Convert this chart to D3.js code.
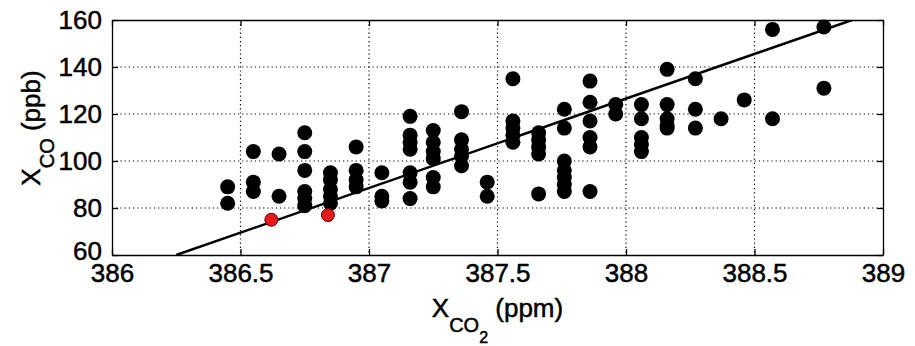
<!DOCTYPE html>
<html>
<head>
<meta charset="utf-8">
<script src="https://cdn.jsdelivr.net/npm/d3@7"></script>
<style>
  body { margin: 0; background: #fff; }
  text { font-family: "Liberation Sans", Arial, Helvetica, sans-serif; fill: #000; stroke: #000; stroke-width: 0.5px; }
</style>
</head>
<body>
<div id="chart"></div>
<script>
var co2Columns = [386.45, 386.55, 386.65, 386.75, 386.85, 386.95, 387.05, 387.16,
  387.25, 387.36, 387.46, 387.56, 387.66, 387.76, 387.86, 387.96, 388.06, 388.16,
  388.27, 388.37, 388.46, 388.57, 388.77];
var coColumns = [
  [89, 82],
  [104, 91, 87],
  [103, 85],
  [112, 104, 96, 87, 84, 81],
  [95, 92, 88, 85, 82],
  [106, 96, 92, 89],
  [95, 85, 83],
  [119, 111, 108, 105, 95, 91, 84],
  [113, 108, 104, 101, 93, 89],
  [121, 109, 105, 102, 98],
  [91, 85],
  [135, 117, 114, 111, 108],
  [112, 109, 106, 103, 86],
  [122, 114, 100, 96, 93, 90, 87],
  [134, 125, 117, 110, 106, 87],
  [124, 120],
  [124, 118, 110, 107, 104],
  [139, 124, 118, 115, 114],
  [135, 122, 114],
  [118],
  [126],
  [156, 118],
  [157, 131]
];
// highlighted (red) samples
var redCo2 = [386.62, 386.84];
var redCo = [75, 77];
// fitted line end points
var fitCo2 = [386.25, 388.88];
var fitCo = [60, 160];

var xTicks = [386, 386.5, 387, 387.5, 388, 388.5, 389];
var yTicks = [60, 80, 100, 120, 140, 160];

var svgWidth = 915;
var svgHeight = 346;
var margin = { top: 20, right: 32, bottom: 91, left: 112 };
var width = svgWidth - margin.left - margin.right;
var height = svgHeight - margin.top - margin.bottom;

var svg = d3.select("#chart")
  .append("svg")
  .attr("width", svgWidth)
  .attr("height", svgHeight);

svg.append("rect").attr("width", svgWidth).attr("height", svgHeight).attr("fill", "#fff");

var g = svg.append("g")
  .attr("transform", `translate(${margin.left},${margin.top})`);

var x = d3.scaleLinear().domain([386, 389]).range([0, width]);
var y = d3.scaleLinear().domain([60, 160]).range([height, 0]);

// dotted grid
g.append("g").selectAll("line")
  .data(xTicks.slice(1, -1))
  .enter().append("line")
  .attr("x1", d => x(d)).attr("x2", d => x(d))
  .attr("y1", 0).attr("y2", height)
  .attr("stroke", "#000").attr("stroke-width", 1.2)
  .attr("stroke-dasharray", "1.2,3");

g.append("g").selectAll("line")
  .data(yTicks.slice(1, -1))
  .enter().append("line")
  .attr("x1", 0).attr("x2", width)
  .attr("y1", d => y(d)).attr("y2", d => y(d))
  .attr("stroke", "#000").attr("stroke-width", 1.2)
  .attr("stroke-dasharray", "1.2,3");

// points
var points = [];
co2Columns.forEach(function(c, i) {
  coColumns[i].forEach(function(v) { points.push({ co2: c, co: v }); });
});

var plot = g.append("g");
plot.append("clipPath").attr("id", "clip")
  .append("rect").attr("width", width).attr("height", height);

plot.selectAll("circle.pt")
  .data(points)
  .enter().append("circle")
  .attr("class", "pt")
  .attr("cx", d => x(d.co2))
  .attr("cy", d => y(d.co))
  .attr("r", 7.5)
  .attr("fill", "#000");

// regression line
var line = d3.line().x(d => x(d[0])).y(d => y(d[1]));
plot.append("path")
  .datum(fitCo2.map((c, i) => [c, fitCo[i]]))
  .attr("d", line)
  .attr("clip-path", "url(#clip)")
  .attr("fill", "none")
  .attr("stroke", "#000")
  .attr("stroke-width", 2.5);

plot.selectAll("circle.red")
  .data(redCo2.map((c, i) => ({ co2: c, co: redCo[i] })))
  .enter().append("circle")
  .attr("class", "red")
  .attr("cx", d => x(d.co2))
  .attr("cy", d => y(d.co))
  .attr("r", 6.5)
  .attr("fill", "#e8171a")
  .attr("stroke", "#5a0000")
  .attr("stroke-width", 1);

// axes, ticks pointing inward on all four sides
var bottomAxis = d3.axisBottom(x).tickValues(xTicks).tickFormat(d3.format("")).tickSizeInner(-6).tickSizeOuter(0).tickPadding(9);
var leftAxis = d3.axisLeft(y).tickValues(yTicks).tickSizeInner(-6).tickSizeOuter(0).tickPadding(10);
var topAxis = d3.axisTop(x).tickValues(xTicks).tickFormat("").tickSizeInner(-6).tickSizeOuter(0);
var rightAxis = d3.axisRight(y).tickValues(yTicks).tickFormat("").tickSizeInner(-6).tickSizeOuter(0);

var axes = [
  g.append("g").attr("transform", `translate(0,${height})`).call(bottomAxis),
  g.append("g").call(leftAxis),
  g.append("g").call(topAxis),
  g.append("g").attr("transform", `translate(${width},0)`).call(rightAxis)
];
axes.forEach(function(a) {
  a.select(".domain").attr("stroke", "#000").attr("stroke-width", 1.3);
  a.selectAll(".tick line").attr("stroke", "#000").attr("stroke-width", 1.3);
  a.selectAll(".tick text").attr("font-size", 26).attr("font-family", null).attr("fill", "#000");
});
// lift the lowest y label a little so it only touches the "386" below it
axes[1].selectAll(".tick text").filter(d => d === 60).attr("y", -4);

// axis titles
var xTitle = svg.append("text")
  .attr("x", margin.left + width / 2)
  .attr("y", 317)
  .attr("text-anchor", "middle")
  .attr("font-size", 26);
xTitle.append("tspan").text("X");
xTitle.append("tspan").attr("font-size", 20).attr("dy", 15).text("CO");
xTitle.append("tspan").attr("font-size", 16).attr("dy", 11).text("2");
xTitle.append("tspan").attr("dy", -26).text(" (ppm)");

var yTitle = svg.append("text")
  .attr("transform", `translate(40,${margin.top + 108}) rotate(-90)`)
  .attr("text-anchor", "middle")
  .attr("font-size", 26);
yTitle.append("tspan").text("X");
yTitle.append("tspan").attr("font-size", 20).attr("dy", 14).text("CO");
yTitle.append("tspan").attr("dy", -14).text(" (ppb)");
</script>
</body>
</html>
